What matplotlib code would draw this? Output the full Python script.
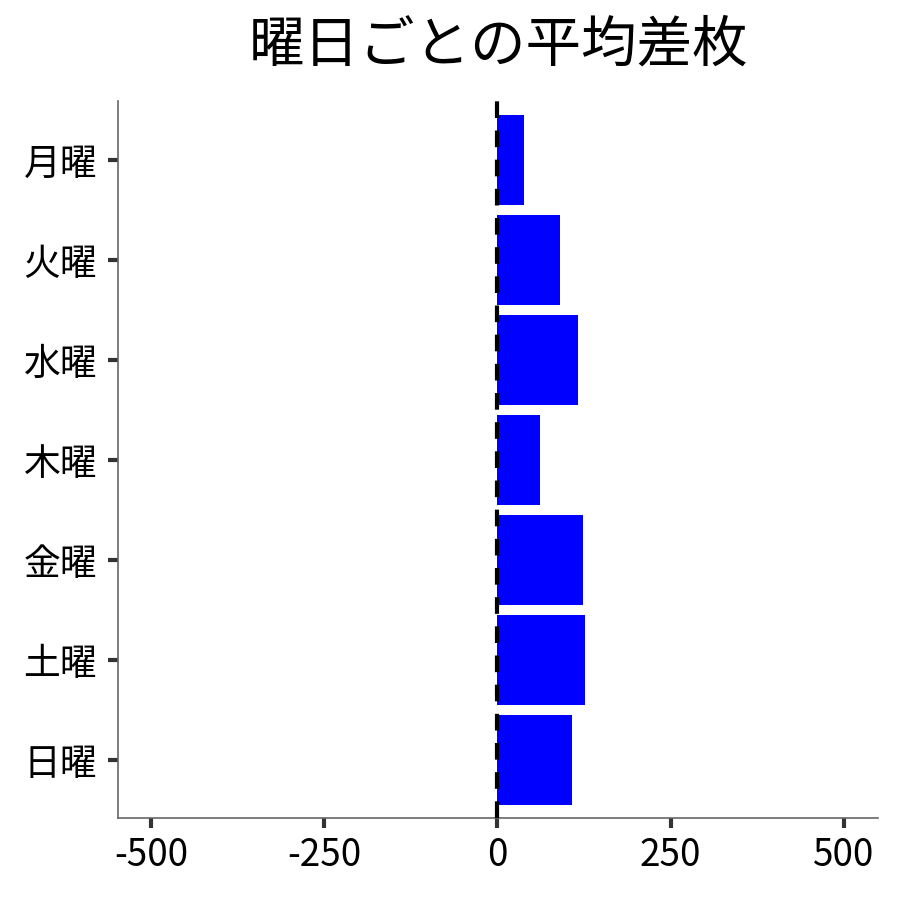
import matplotlib
matplotlib.use("Agg")
import matplotlib.pyplot as plt

plt.rcParams['font.family'] = ['Noto Sans CJK JP', 'DejaVu Sans']

# データ (上から順に)
days = ['月曜', '火曜', '水曜', '木曜', '金曜', '土曜', '日曜']
avg_diff = [39, 91, 117, 61, 123, 127, 108]
xticks = [-500, -250, 0, 250, 500]

fig = plt.figure(figsize=(9, 9), dpi=100)
ax = fig.add_axes([0.131, 0.091, 0.845, 0.797])

ypos = list(range(len(days)))
ax.barh(ypos, avg_diff, height=0.9, color='#0000ff', zorder=2)
ax.axvline(0, color='black', linestyle=(0, (4, 3)), linewidth=3, zorder=3)

ax.set_yticks(ypos)
ax.set_yticklabels(days, fontsize=26.5)
ax.set_xticks(xticks)
ax.set_xticklabels([str(v) for v in xticks], fontsize=26.5)
ax.set_xlim(-548, 550)
ax.set_ylim(len(days) - 0.42, -0.59)

for s in ['top', 'right']:
    ax.spines[s].set_visible(False)
for s in ['left', 'bottom']:
    ax.spines[s].set_color('#666666')
    ax.spines[s].set_linewidth(1.2)
ax.tick_params(axis='y', length=7, width=3, color='#333333', pad=8)
ax.tick_params(axis='x', length=7, width=3, color='#333333', pad=6)

ax.set_title('曜日ごとの平均差枚', fontsize=40, pad=28)

fig.savefig('out.png', dpi=100)
